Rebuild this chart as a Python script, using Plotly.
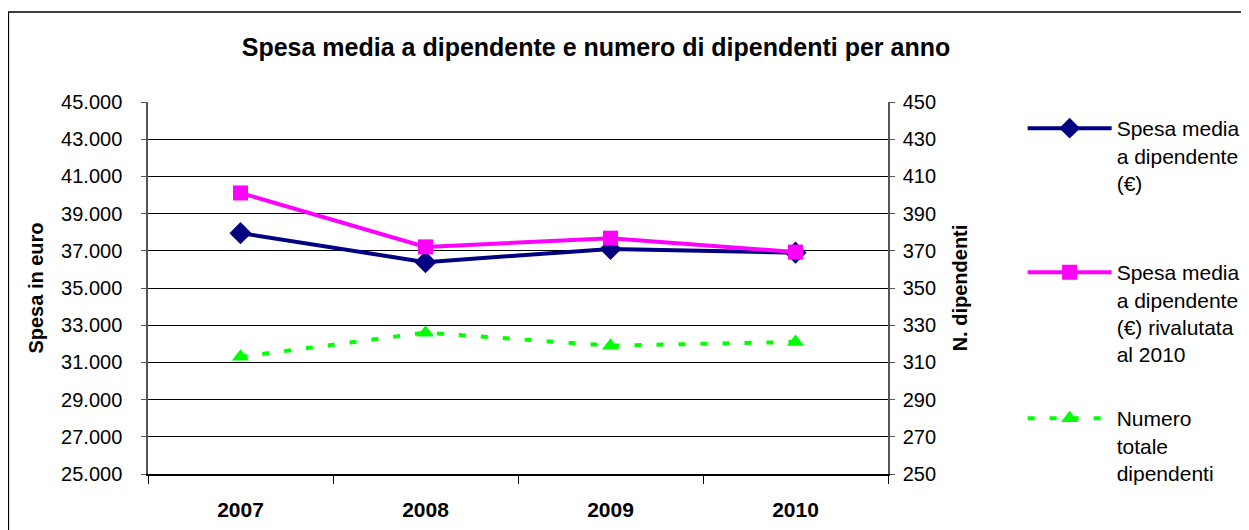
import plotly.graph_objects as go

anni = ["2007", "2008", "2009", "2010"]
spesa_media = [37950, 36390, 37100, 36900]
spesa_rivalutata = [40110, 37210, 37680, 36930]
n_dipendenti = [313, 326, 319, 321]

FONT = "Liberation Sans, Arial, sans-serif"

# the page adds an 8px body margin, so page pixels = figure pixels + 8
OFF = 8
W, H = 1249, 530
PL, PR, PT, PB = 148, 890, 102, 474   # plot area on the page
L, T = PL - OFF, PT - OFF
R, B = W - (PR - OFF), H - (PB - OFF)


def px_x(p):
    return (p - PL) / (PR - PL)


def px_y(p):
    return (PB - p) / (PB - PT)


fig = go.Figure()

fig.add_trace(go.Scatter(
    x=anni, y=spesa_media, name="Spesa media<br>a dipendente<br>(€)",
    mode="lines+markers", line=dict(color="#000080", width=4),
    marker=dict(symbol="diamond", size=17, color="#000080"),
    legend="legend"))

fig.add_trace(go.Scatter(
    x=anni, y=spesa_rivalutata, name="Spesa media<br>a dipendente<br>(€) rivalutata<br>al 2010",
    mode="lines+markers", line=dict(color="#FF00FF", width=4),
    marker=dict(symbol="square", size=15, color="#FF00FF"),
    legend="legend2"))

fig.add_trace(go.Scatter(
    x=anni, y=n_dipendenti, name="Numero<br>totale<br>dipendenti", yaxis="y2",
    mode="lines+markers", line=dict(color="#00FF00", width=4, dash="7px,15px"),
    marker=dict(symbol="triangle-up", size=15, color="#00FF00"),
    legend="legend3"))

legend_style = dict(font=dict(family=FONT, size=21, color="black"), bgcolor="rgba(0,0,0,0)",
                    valign="top", itemwidth=84, xanchor="left", yanchor="top")

fig.update_layout(
    width=W, height=H, autosize=False, showlegend=True,
    margin=dict(l=L, r=R, t=T, b=B),
    paper_bgcolor="white", plot_bgcolor="white",
    separators=",.",
    font=dict(family=FONT, color="black"),
    title=dict(text="<b>Spesa media a dipendente e numero di dipendenti per anno</b>",
               x=(596 - OFF) / W, xref="container", xanchor="center",
               y=1 - (47 - OFF) / H, yref="container", yanchor="middle",
               font=dict(family=FONT, size=25, color="black")),
    xaxis=dict(type="category", range=[-0.5, 3.5], tickson="boundaries",
               ticks="outside", ticklen=8, tickcolor="black",
               showline=True, linecolor="black", linewidth=1.5,
               showgrid=False, zeroline=False,
               tickfont=dict(family=FONT, size=21, color="black", weight="bold"),
               ticklabelstandoff=16),
    yaxis=dict(range=[25000, 45000], tick0=25000, dtick=2000, tickformat=",d",
               ticks="outside", ticklen=5, tickcolor="#555",
               showline=True, linecolor="#555", linewidth=1.5,
               showgrid=True, gridcolor="black", gridwidth=1, zeroline=False,
               tickfont=dict(family=FONT, size=20, color="black"),
               ticklabelstandoff=15,
               title=dict(text="<b>Spesa in euro</b>", standoff=12,
                          font=dict(family=FONT, size=20, color="black"))),
    yaxis2=dict(range=[250, 450], tick0=250, dtick=20, overlaying="y", side="right",
                ticks="outside", ticklen=5, tickcolor="#555",
                showline=True, linecolor="#555", linewidth=1.5,
                showgrid=False, zeroline=False,
                tickfont=dict(family=FONT, size=20, color="black"),
                ticklabelstandoff=4,
                title=dict(text="<b>N. dipendenti</b>", standoff=18,
                           font=dict(family=FONT, size=20, color="black"))),
    legend=dict(x=px_x(1025), y=px_y(108), **legend_style),
    legend2=dict(x=px_x(1025), y=px_y(252), **legend_style),
    legend3=dict(x=px_x(1025), y=px_y(398), **legend_style),
    shapes=[dict(type="rect", xref="paper", yref="paper",
                 x0=px_x(8), x1=px_x(1246), y0=px_y(545), y1=px_y(12),
                 line=dict(color="black", width=1.5), fillcolor="rgba(0,0,0,0)", layer="below")],
)

fig.write_html("out.html")
